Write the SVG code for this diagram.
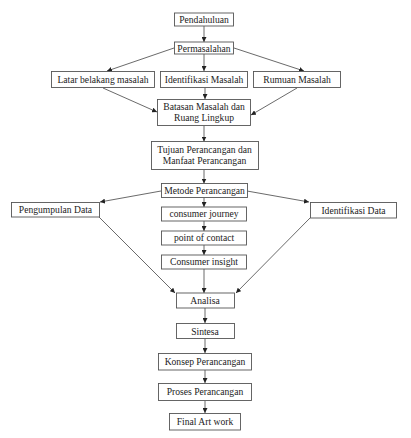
<svg xmlns="http://www.w3.org/2000/svg" width="411" height="438" viewBox="0 0 411 438">
<style>
.b{fill:#fff;stroke:#555;stroke-width:0.9}
.t{font-family:"Liberation Serif",serif;font-size:9.6px;fill:#222;text-anchor:middle}
.c line{stroke:#444;stroke-width:0.8;marker-end:url(#a)}
</style>
<defs>
<marker id="a" viewBox="0 0 10 10" refX="10" refY="5" markerWidth="5" markerHeight="5" markerUnits="userSpaceOnUse" orient="auto">
<path d="M0,0L10,5L0,10z" fill="#222"/>
</marker>
</defs>
<rect width="411" height="438" fill="#fff"/>
<g class="c">
<line x1="204" y1="26" x2="204" y2="42"/>
<line x1="174" y1="48" x2="107" y2="71"/>
<line x1="204" y1="54" x2="204" y2="71"/>
<line x1="234" y1="48" x2="304" y2="71"/>
<line x1="103" y1="88" x2="157" y2="112"/>
<line x1="205" y1="88" x2="205" y2="99"/>
<line x1="297" y1="88" x2="251" y2="115"/>
<line x1="204" y1="126" x2="204" y2="141.5"/>
<line x1="204" y1="169.5" x2="204" y2="183.5"/>
<line x1="161" y1="191" x2="100" y2="202"/>
<line x1="247" y1="191" x2="309" y2="202"/>
<line x1="204" y1="198" x2="204" y2="207"/>
<line x1="204" y1="221" x2="204" y2="231"/>
<line x1="204" y1="245" x2="204" y2="255"/>
<line x1="204" y1="269" x2="204" y2="293"/>
<line x1="99" y1="217" x2="175" y2="293"/>
<line x1="310" y1="218" x2="236" y2="293"/>
<line x1="205" y1="308" x2="205" y2="323"/>
<line x1="205" y1="339" x2="205" y2="353"/>
<line x1="205" y1="370" x2="205" y2="383"/>
<line x1="205" y1="401" x2="205" y2="413"/>
</g>
<g id="pendahuluan"><rect class="b" x="174.5" y="13" width="59" height="13"/><text class="t" x="204" y="23">Pendahuluan</text></g>
<g id="permasalahan"><rect class="b" x="174.5" y="42" width="59" height="12"/><text class="t" x="204" y="51.5">Permasalahan</text></g>
<g id="latar"><rect class="b" x="51.5" y="71.5" width="103" height="16"/><text class="t" x="103" y="83">Latar belakang masalah</text></g>
<g id="identifikasi-masalah"><rect class="b" x="160.5" y="71.5" width="87" height="16"/><text class="t" x="204" y="83">Identifikasi Masalah</text></g>
<g id="rumuan"><rect class="b" x="253.5" y="71.5" width="87" height="16"/><text class="t" x="297" y="83">Rumuan Masalah</text></g>
<g id="batasan"><rect class="b" x="157.5" y="99.5" width="93" height="26"/><text class="t" x="204" y="109.5">Batasan Masalah dan</text><text class="t" x="204" y="120.5">Ruang Lingkup</text></g>
<g id="tujuan"><rect class="b" x="151.5" y="141.5" width="107" height="28"/><text class="t" x="204.5" y="152.5">Tujuan Perancangan dan</text><text class="t" x="204.5" y="163.5">Manfaat Perancangan</text></g>
<g id="metode"><rect class="b" x="161.5" y="183.5" width="86" height="14"/><text class="t" x="204.5" y="194">Metode Perancangan</text></g>
<g id="pengumpulan"><rect class="b" x="11.5" y="202.5" width="88" height="14.5"/><text class="t" x="55.5" y="213">Pengumpulan Data</text></g>
<g id="identifikasi-data"><rect class="b" x="310.5" y="202.5" width="86" height="15.5"/><text class="t" x="353.5" y="213.5">Identifikasi Data</text></g>
<g id="journey"><rect class="b" x="161.5" y="207" width="85" height="14"/><text class="t" x="204" y="217">consumer journey</text></g>
<g id="contact"><rect class="b" x="161.5" y="231" width="85" height="14"/><text class="t" x="204" y="241">point of contact</text></g>
<g id="insight"><rect class="b" x="161.5" y="255" width="85" height="14"/><text class="t" x="204" y="265">Consumer insight</text></g>
<g id="analisa"><rect class="b" x="176.5" y="293" width="58" height="15"/><text class="t" x="205" y="304">Analisa</text></g>
<g id="sintesa"><rect class="b" x="176.5" y="323.5" width="58" height="15"/><text class="t" x="205" y="334.5">Sintesa</text></g>
<g id="konsep"><rect class="b" x="158.5" y="353.5" width="93" height="16.5"/><text class="t" x="205" y="365">Konsep Perancangan</text></g>
<g id="proses"><rect class="b" x="158.5" y="383.5" width="93" height="17"/><text class="t" x="205" y="395">Proses Perancangan</text></g>
<g id="final"><rect class="b" x="169.5" y="413.5" width="71" height="16.5"/><text class="t" x="205" y="425">Final Art work</text></g>
</svg>
